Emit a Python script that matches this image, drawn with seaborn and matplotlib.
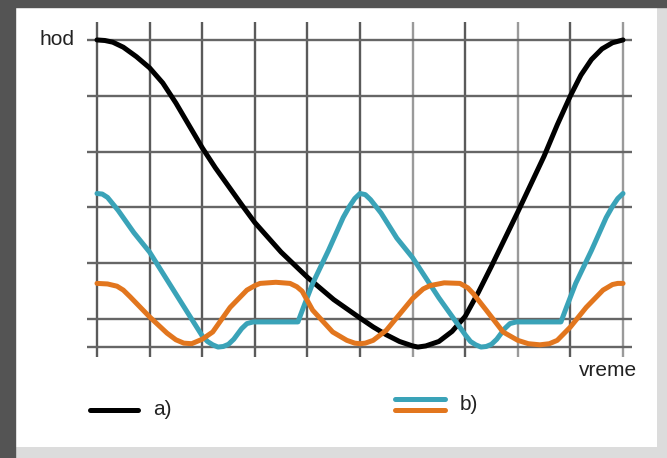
import numpy as np
import pandas as pd
from matplotlib import pyplot as plt
from matplotlib.patches import Rectangle
import seaborn as sns

# --- dane ---
black_x = [0, 0.15, 0.3, 0.5, 0.75, 1.0, 1.25, 1.5, 1.75, 2.0, 2.25, 2.5, 2.75, 3.0, 3.5, 4.0, 4.5, 5.0,
           5.25, 5.5, 5.75, 6.0, 6.1, 6.25, 6.5, 6.75, 7.0, 7.25, 7.5, 8.0, 8.5, 8.75, 9.0,
           9.2, 9.4, 9.6, 9.8, 10.0]
black_y = [5.5, 5.49, 5.46, 5.37, 5.2, 5.0, 4.73, 4.37, 3.97, 3.57, 3.21, 2.88, 2.55, 2.23, 1.7, 1.25, 0.85, 0.52,
           0.36, 0.22, 0.1, 0.02, 0.0, 0.02, 0.1, 0.28, 0.55, 0.98, 1.45, 2.42, 3.42, 3.98, 4.5,
           4.87, 5.15, 5.34, 5.45, 5.5]

teal_x = [0, 0.1, 0.2, 0.4, 0.7, 1.0, 1.5, 2.0, 2.1, 2.2, 2.3, 2.4, 2.5, 2.6, 2.75, 2.85, 2.97,
          3.82, 3.92, 4.1, 4.4, 4.68, 4.8, 4.9, 5.0, 5.1, 5.2, 5.4, 5.7, 6.0, 6.5, 7.0, 7.1,
          7.2, 7.3, 7.4, 7.5, 7.6, 7.75, 7.85, 7.97, 8.82, 8.92, 9.1, 9.4, 9.68, 9.8, 9.9, 10.0]
teal_y = [2.75, 2.74, 2.68, 2.45, 2.05, 1.7, 0.95, 0.2, 0.1, 0.04, 0.0, 0.01, 0.05, 0.14, 0.33, 0.42, 0.45,
          0.45, 0.7, 1.14, 1.73, 2.32, 2.52, 2.66, 2.75, 2.73, 2.64, 2.4, 1.95, 1.6, 0.88, 0.22, 0.1,
          0.04, 0.0, 0.01, 0.05, 0.14, 0.33, 0.42, 0.45, 0.45, 0.7, 1.14, 1.73, 2.32, 2.52, 2.66, 2.75]

orange_x = [0, 0.2, 0.38, 0.5, 0.63, 1.0, 1.33, 1.5, 1.65, 1.8, 2.0, 2.2, 2.53, 2.85, 3.0, 3.1, 3.4,
            3.67, 3.8, 3.9, 4.1, 4.48, 4.75, 4.9, 5.0, 5.1, 5.25, 5.5, 6.0, 6.2, 6.33, 6.6, 6.9,
            7.05, 7.15, 7.4, 7.72, 8.0, 8.2, 8.42, 8.6, 8.75, 9.0, 9.3, 9.62, 9.8, 9.9, 10.0]
orange_y = [1.14, 1.13, 1.09, 1.02, 0.9, 0.54, 0.25, 0.13, 0.07, 0.06, 0.14, 0.27, 0.71, 1.02, 1.1, 1.14, 1.16,
            1.14, 1.08, 1.0, 0.66, 0.27, 0.12, 0.07, 0.06, 0.07, 0.12, 0.3, 0.87, 1.04, 1.1, 1.15, 1.14,
            1.06, 0.96, 0.66, 0.27, 0.12, 0.06, 0.04, 0.06, 0.12, 0.36, 0.71, 1.02, 1.12, 1.14, 1.14]

grid_x = [0, 1, 2, 3, 4, 5, 6, 7, 8, 9, 10]
grid_y = [0, 0.5, 1.5, 2.5, 3.5, 4.5, 5.5]
light_x = [6, 8, 10]

series_colors = {"a": "#000000", "b1": "#3aa3b8", "b2": "#e2761e"}

df = pd.concat([
    pd.DataFrame({"x": black_x, "y": black_y, "krzywa": "a"}),
    pd.DataFrame({"x": teal_x, "y": teal_y, "krzywa": "b1"}),
    pd.DataFrame({"x": orange_x, "y": orange_y, "krzywa": "b2"}),
], ignore_index=True)

sns.set_style("white")
plt.rcParams["font.family"] = ["Liberation Sans", "DejaVu Sans"]

fig = plt.figure(figsize=(6.67, 4.58), dpi=100, facecolor="#dcdcdc")
W, H = 667.0, 458.0
# ciemne ramki z lewej i u góry
fig.patches.append(Rectangle((0, 0), 15 / W, 1, transform=fig.transFigure, color="#545454", zorder=0))
fig.patches.append(Rectangle((0, 1 - 7 / H), 1, 7 / H, transform=fig.transFigure, color="#545454", zorder=0))

ax = fig.add_axes([16 / W, 1 - 447 / H, (657 - 16) / W, (447 - 7) / H])
ax.set_xlim(-1.54, 10.646)
ax.set_ylim(-1.79, 6.09)
ax.axis("off")
ax.add_patch(Rectangle((0, 0), 1, 1, transform=ax.transAxes, color="white", zorder=0))

# siatka
for gx in grid_x:
    c = "#9a9a9a" if gx in light_x else "#5a5a5a"
    ax.vlines(gx, -0.18, 5.82, color=c, lw=1.7, zorder=1)
ax.hlines(grid_y, -0.19, 10.17, color="#666666", lw=1.7, zorder=1)

sns.lineplot(data=df, x="x", y="y", hue="krzywa", palette=series_colors, sort=False,
             estimator=None, lw=3.6, legend=False, ax=ax, zorder=3)
for line in ax.lines:
    line.set_solid_capstyle("round")
    line.set_solid_joinstyle("round")

ax.text(-0.43, 5.5, "hod", ha="right", va="center", fontsize=15, color="#222222")
ax.text(9.72, -0.42, "vreme", ha="center", va="center", fontsize=15, color="#222222")

# legenda
ax.plot([-0.13, 0.78], [-1.13, -1.13], color="black", lw=3.6, solid_capstyle="round")
ax.text(1.06, -1.11, "a)", ha="left", va="center", fontsize=15, color="#222222")
ax.plot([5.67, 6.62], [-0.93, -0.93], color=series_colors["b1"], lw=3.6, solid_capstyle="round")
ax.plot([5.67, 6.62], [-1.13, -1.13], color=series_colors["b2"], lw=3.6, solid_capstyle="round")
ax.text(6.9, -1.03, "b)", ha="left", va="center", fontsize=15, color="#222222")

fig.savefig("out.png", dpi=100, facecolor=fig.get_facecolor())
